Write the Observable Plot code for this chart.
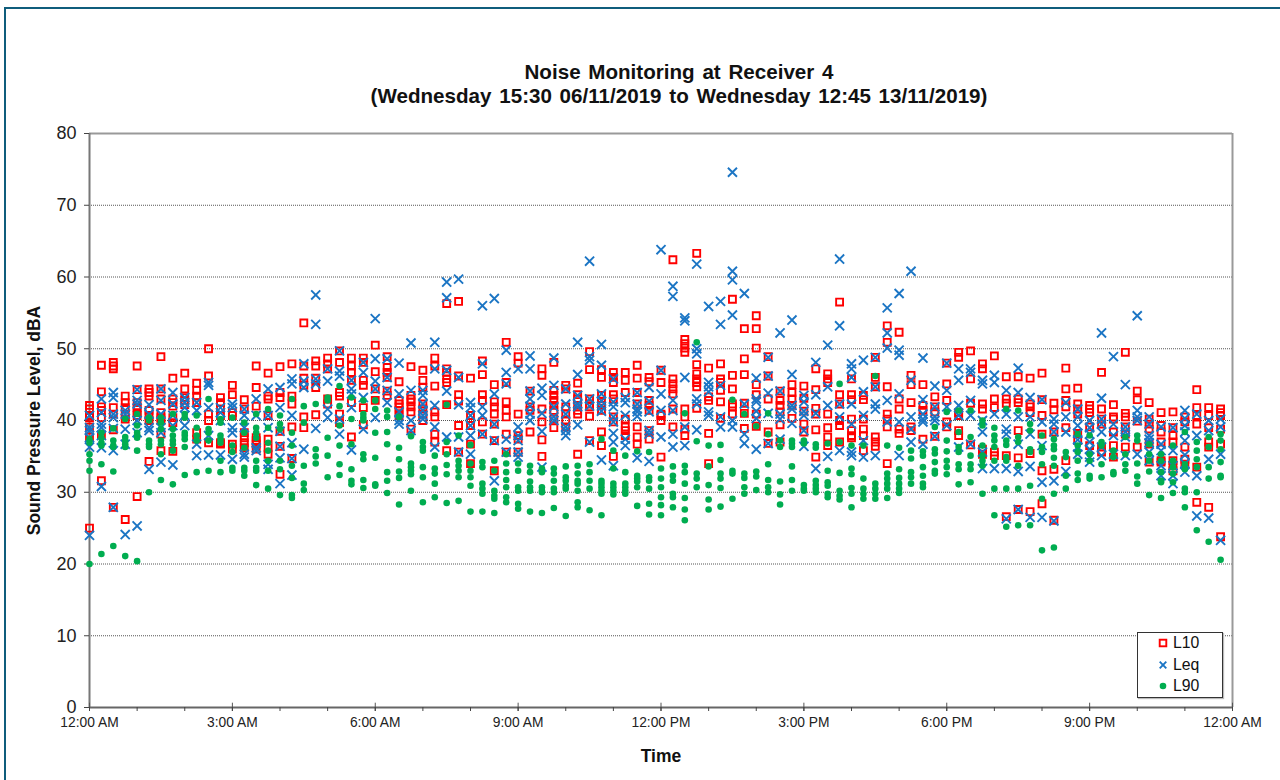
<!DOCTYPE html>
<html>
<head>
<meta charset="utf-8">
<script src="https://cdn.jsdelivr.net/npm/d3@7"></script>
<script src="https://cdn.jsdelivr.net/npm/@observablehq/plot@0.6"></script>
<style>
html,body{margin:0;padding:0;background:#fff;width:1280px;height:780px;overflow:hidden}
#page{position:relative;width:1280px;height:780px;font-family:"Liberation Sans",Arial,sans-serif;color:#111}
#edge{position:absolute;left:4px;top:7px;right:0;bottom:0;border-left:2px solid #0f5d7c;border-top:2px solid #0f5d7c}
#title{position:relative;height:110px;box-sizing:border-box;padding-top:60px;padding-left:78px;text-align:center;font-weight:bold;font-size:20.6px;line-height:24px;word-spacing:2px;white-space:nowrap}
#legend{position:absolute;left:1137px;top:632px;width:84px;height:64px;border:1px solid #333;background:#fff;font-size:15.8px;box-shadow:1px 1px 1px #bbb}
.row{position:absolute;left:19px;height:20px;line-height:20px;display:flex;align-items:center}
.row svg{width:12px;height:12px;margin-right:4px;display:block}
#chart svg{display:block}
</style>
</head>
<body>
<div id="page">
<div id="edge"></div>
<div id="title">Noise Monitoring at Receiver 4<br>(Wednesday 15:30 06/11/2019 to Wednesday 12:45 13/11/2019)</div>
<div id="chart"></div>
<div id="legend">
<div class="row" style="top:0px"><svg viewBox="-6 -6 12 12"><rect x="-3.3" y="-3.3" width="6.6" height="6.6" fill="none" stroke="#ff0000" stroke-width="1.9"/></svg>L10</div>
<div class="row" style="top:22px"><svg viewBox="-6 -6 12 12"><path d="M-3.3,-3.3L3.3,3.3M-3.3,3.3L3.3,-3.3" stroke="#1b75c4" stroke-width="1.9"/></svg>Leq</div>
<div class="row" style="top:43px"><svg viewBox="-6 -6 12 12"><circle r="3.3" fill="#00ad50"/></svg>L90</div>
</div>
</div>
<script>
const xTickHours = [0,3,6,9,12,15,18,21,24];
const xTickLabels = ["12:00 AM","3:00 AM","6:00 AM","9:00 AM","12:00 PM","3:00 PM","6:00 PM","9:00 PM","12:00 AM"];
const xMinorHours = d3.range(0,25);
const yTicks = [0,10,20,30,40,50,60,70,80];

// one inner list per 15-minute slot of the day
const L10 = [
[42.1,41.6,40.7,40.4,39.1,37.7,25],
[47.7,44,41.9,41.4,40.4,38,31.6],
[48.1,47.6,47.2,41.8,40.9,38.7,27.9],
[43.4,42.5,41.8,40.7,40.2,26.2],
[47.6,44.3,42.5,41.8,41.1,40.7,29.4],
[44.4,43.9,43.4,41.4,40.7,40,34.3],
[48.9,44.4,43,41.1,40.4,40,38.1,35.8],
[45.9,43,42.5,42,40.4,39.7,35.7],
[46.6,44.4,43.2,42.8,42.2],
[45.2,44.2,43.4,42.5,38.3,37.4],
[50,46.2,40.9,40,36.9],
[43.2,42.5,41.6,40.7,36.9,36.7],
[44.9,43.6,41.1,40.7,36.7,36],
[42.9,41.6,38.3,37.6,36.9,36.2],
[47.6,44.6,42,37.6,37.2,36.7,36],
[46.6,43.4,43,40.7,37.4,36.2,35.3],
[47.5,43.9,43.2,38.5,36.4,32.5],
[47.9,43.4,42.3,39.1,34.7],
[53.6,47.6,45.9,44.9,40.5,39],
[48.3,47.6,45.9,44.6,40.8],
[48.7,47.9,47.2,43,42.3],
[49.7,48.1,43.9,43.4,40.9,39.7],
[48.7,47.6,46.7,45.6,42.5,37.7],
[48.7,48.1,45.6,44.9,41.8,39.4],
[50.5,46.8,44.4,42.8],
[48.9,47.4,46.7,46,44.1,43.5],
[45.4,42.8,42.3,41.9,41.4,40.7],
[47.5,43.5,43,42.6,41.9,41.2,38.8],
[47,45.6,44.6,42.3,41.6,40.9,40],
[48.7,47.6,44.8,41.2,40.5,38.1,37],
[56.3,47.2,46.7,45.8,45.3,42.2,35.8],
[56.6,46.2,43.6,42.7,39.3,35.6],
[45.9,40.7,39.3,36.7,34],
[48.3,46.4,43.6,42.8,39.8,38.1],
[45,42.6,41.9,40.9,39.5,37.2,33],
[50.9,45.3,42.6,41.4,40.5,38.1,35.6],
[48.9,48,40.9,37.9,37.4,35.6],
[44.1,41.9,41.4,38.4],
[47.2,46.3,41.6,39.8,37.3,35],
[48.1,44.2,43.5,42.8,42.1,41.4,40.2,39],
[44.9,44.4,41.9,40.9,40,39.1],
[45.2,43.6,43,42.1,41.4,40.9,35.3],
[49.6,47.1,43,42.3,41.9,40.6,37.2],
[47.1,46,43.5,42.7,42.1,41.4,38.4,36.5],
[46.7,46,45.3,43.6,43,40.5,39.8,35],
[46.7,45.6,43.9,40.2,39.1,38.6,37.9],
[47.7,45.9,43.9,42.3,39.1,37.7,36.7],
[46,45.4,42.8,42.1,41.4,38.6,37.4],
[47,45.3,40.9,40.7,40,34.9],
[62.4,45.8,45.1,44.4,43.7,41.6,39.1],
[51.3,50.7,50.1,49.5,41.6,40.5,38.8,37.9],
[63.3,47.8,46.5,45.8,45.3,44.7,41.7],
[47.3,43.3,42.8,38.2,34],
[47.9,45.8,45.3,44.2,42.6,40.3],
[56.9,46.3,44.4,42.3,41.9,40.9],
[52.8,48.6,46.4,42.4,41,38.9],
[54.6,52.8,50.1,45,43.6,40.9,39.2],
[48.9,46.2,43,38.4,36.8],
[44.1,42.8,42.1,41.2,39.4,37],
[45,43.9,43,42.1,40.3],
[44.8,43.1,41.3,39.5,38.4],
[47.2,44.3,41.7,40.9,38.7,34.9],
[46.5,45.8,45.3,40.9,39,37.7,36.5],
[56.5,43.6,42.3,40,39.3,37],
[45.8,43.6,42.9,40.2,38.6,37.9,37.6],
[43.5,42.9,40.2,38.8,37.9,35.8],
[48.8,46,44.7,37.7,37,36.4],
[53.2,50.9,44.7,40.9,40.2,39.1,34],
[52.3,43,41.6,38.8,38.2],
[46.3,45,42.5,39.1,38.6],
[45,42.1,41.4,37.4],
[43.3,41.9,41.2,37.8],
[48,45.1,42.8,39.8,39.1],
[49.5,48.8,41.1,40.7,38.6,37.9],
[49.7,45.8,42.4,36.6],
[47.9,47.2,42.3,41.6,36,35.3],
[49,43,41.8,35.6,35.1],
[46.1,43,42.4,35.1,26.6],
[46.1,43,42.5,38.6,34.8,27.6],
[45.9,42.3,41.9,41.1,35.4,27.3],
[46.6,42.9,40.7,38.1,33,28.4],
[42.4,41.5,38.4,33.2,26.1],
[47.3,44.4,42.8,41.9,39,34.4],
[44.5,42.3,41.6,40.9,38.2,37.2],
[42.1,41.6,41.1,39.1,36.5],
[46.7,41.6,40.2,39.5,36.3,35.6],
[42.2,40.5,40.2,38.4,36.5,34.9],
[49.5,41,40.5,39.1,38.1,36.3],
[44.1,42.9,39.9,36.3],
[42.5,40.2,39.5,38.8,36.7,34.2],
[41.1,39.3,38.4,37,34.4,34.2],
[41.2,39,37.9,37,34.4,33.7,33],
[40.5,39.8,36.3,34.6,33.9],
[44.3,41.8,40.7,39.5,33.5,28.6],
[41.8,40.7,39,37,36.3,27.9],
[41.6,41.1,40.7,38.8,36.7,23.8]
];
const Leq = [
[40.7,39,38.6,37.6,36.3,24],
[43,41.1,39.5,39,37.9,36.2,30.8],
[43.9,43.2,40.9,40.4,38.9,35.8,27.9],
[41.4,40.9,38.8,36.7,24.1],
[44.3,42.8,42.3,40,38.3,25.3],
[42.2,40.9,39,38.6,33.2],
[44.4,42.8,40.9,39,38.3,34.2],
[43.9,42.3,40.7,39.3,33.8],
[43.2,42.5,41.8,40.7,39.3],
[42.5,41.4,36.7,35.1],
[45.3,44.9,41.8,37.9,35.2],
[41.8,41.1,40,35.2],
[42.3,41.8,39,38.3,34.6],
[41.6,40.7,39,35.3,34.9],
[43,40.7,36.2,35.8],
[44.4,40.7,39,33.9,33.2],
[44.6,41.8,38.5,36.4,34.8,31.2],
[45.8,45.1,40.7,36.9,34.7,32.4],
[47.9,45.5,44.6,36],
[57.5,53.4,45.8,45.1,38.9],
[47.2,45.5,41.6,40.4],
[49.7,46.9,46.2,40.2,38.1],
[45.6,44.4,43.7,41.8,35.9],
[48.1,46.7,43.2,38.8],
[54.2,48.6,45.5,44.4,40.4],
[48.6,46,44.2,42.5],
[48,43.7,41.2,40,39.5],
[50.8,44.2,40,38.6],
[44.2,43.5,42.3,41.4,40.7,40.2],
[50.9,47.2,42.1,39.1,36.3],
[59.3,57.1,47,44.1,37.7],
[59.7,46,42.2,37.7,35.6],
[42.5,41.8,40.7,39.3,37.9,35.3],
[56,47.9,41.9,40.7,38.1],
[57,43.7,39.5,37.2,31.6],
[49.8,46.7,45.1,37.4,35.6],
[47.2,39.1,37.9,37.2,35.6,34.9],
[49,47.2,44.1,43,42,40.9,40],
[44.5,43.5,41,38.5,33.5],
[48.7,44.9,41.9,40.5,40],
[44.4,42.3,40.9,39.1,38.6,37.9],
[50.9,46.4,43.5,42.3,41.9,39.4],
[62.2,48.9,48.4,43,42,37],
[50.6,47.7,43.7,42.7,42,41.3,34.5],
[45.8,42.6,41.9,40.5,39.8,38.2,37,33.7],
[43.2,42.5,40.7,37.4,36.5],
[43.9,42.3,41.6,41.2,40.6,34.8],
[44.6,42.7,41.2,38.6,38.1,34.3],
[63.8,47,43.7,41.4,37.7],
[58.7,57.3,42.8,41.4,38.1,36.3],
[54.3,53.9,46,39.1,36.5],
[61.8,50,49.3,43,42.3,38.7],
[55.9,45.3,44.7,44,41.2,40.7],
[56.6,53.4,44.9,40.5,39.1],
[74.6,60.8,59.6,54.7,40,39.1],
[57.7,42.3,38.1,36.8],
[45.9,43,42.6,41.3,40.3,36],
[48.8,46.2,43.8,41,36.8],
[52.2,44.1,40.9,40.2,37.4],
[54,46.4,42.1,41.6,39.6],
[43.5,42.6,41.3,40.7,38.6,36.4],
[48.1,43.6,41,33.3],
[50.5,44.7,42.1,35],
[62.5,53.2,42.3,40.5,35.8],
[47.9,47.2,46,42.3,39.5,35.6,35.1],
[48.4,44,40.7,37.2,34.9],
[48.8,44.7,42.3,41.6,35.1],
[55.7,52.2,50.1,42.8,39.8],
[57.7,49.8,49.1,43.7,39.8,35.1],
[60.8,45.6,40.5,38.8,37],
[48.7,42.9,40.9,40.2,39.8,36.7],
[44.8,41.9,40.5,40,37.8],
[48,44.2,41.9,39.3],
[47.2,45.6,42.1,40.7,36.3],
[47.2,46.7,42.8,40.7,36.7],
[45.6,45.1,40,38.4,35.6,33.3],
[46.3,45.3,40.9,33.3],
[44.2,40.9,38.8,38.1,33.3,26.3],
[47.3,43.9,40.5,36.7,32.9,27.6],
[43.2,40.5,38.1,33.6,26.5],
[42.9,39.8,36.5,31.4,26.5],
[40.2,39.5,38.4,31.6,26],
[42.5,40.5,38.4,32.9],
[41.6,40.5,39.3,38.2,37.3,36.3,35.3],
[40,39,38.1,37,36,34.9,34.2],
[52.2,43.1,40.2,39.5,38.4,36.3,35.1],
[48.9,39.5,37.9,35.3],
[45,39.1,38.4,37.7,35.1],
[54.6,41.4,40.5,40,35.3],
[40.5,39.5,37.9,37.4,36.9,35.6,34.4],
[39.1,36.7,35.8,33.7,32.3],
[39,35.8,33.7,32.3,31.2],
[41.4,40.3,39.3,38.4,37.2,35.2,34,32.8],
[40.9,37.9,32.3,26.7],
[40,38.6,34.6,26.4],
[40.2,39.1,35.3,23.3]
];
const L90 = [
[37.4,36.9,35.3,34.4,33,20],
[38.3,37.6,36.9,36.5,33.9,21.4],
[38.9,37.2,36.5,36.3,32.9,22.5],
[40.2,37.7,37.2,36.7,36.3,21.1],
[40.9,39.3,38.3,37.9,37.6,35.8,20.4],
[40.4,40,37.2,36.7,36.3,30],
[40.4,39.7,38.8,37.2,36.7,35.3,31.7],
[40.9,38.8,37.9,37.2,36.7,35.8,31.1],
[40.9,40.4,38.3,37.9,37.4,36.3,32.4],
[40.7,39,37.9,37.2,32.8],
[43,38.8,38.3,37.2,33],
[40.2,39.7,37.9,37.4,36.9,34.4,32.8],
[40.4,36.5,35.6,33.4,33],
[39.7,38.3,36.2,33.4,33,32.3],
[40.9,39,38.3,37.6,34.4,33.4,33,31],
[41.6,39,36.9,35.8,34.4,33,30.5],
[40.7,39.5,38.8,34.4,33.2,29.6],
[43,38.3,36.5,33.7,32,29.6,29.2],
[42,39.7,33.7,31.2,30.3],
[42.3,36,35,34],
[43.2,42.8,37.6,35.1,32.1],
[44.8,42,39.3,36.5,33.9,32.4],
[43.2,40.2,36.7,33.2,31.6,31.1],
[42.8,40.9,40.4,40,35.3,34.6,31.7,30.6],
[42.8,41.6,38.3,34.8,31.1,30.9],
[41.4,40.5,38.4,36.7,32.8,31.6,29.9],
[40.5,36.2,34.6,32.9,32,28.3],
[37.8,34,33.5,33,32.5,30.2],
[37,36.3,35.8,33.5,32.1,28.6],
[35.1,33.3,32.6,31.2,29.3],
[42.2,37,35.3,33.8,32.5,28.5],
[37.9,34.4,33.7,33,32.1,28.8],
[36.6,34,33,32.1,30.9,27.3],
[34.2,33.5,31.2,30.5,29.8,27.3],
[34.4,33,30.2,29.5,29.1,27.1],
[35.3,34,32.8,31.7,30.7,29.3,28.6],
[34,33,30.7,30.2,28.4,27.7],
[33.7,32.8,31.5,30.7,30.2,27.3],
[33.3,32.8,30.7,30.2,30,27.1],
[33.3,32.6,31.6,30.5,30,27.8],
[33.6,32.1,31.6,30.9,30.5,26.7],
[33.7,32.6,31.6,31.2,30.2,28.6,27.9],
[33.9,32.8,31.6,30.5,27.5],
[37.4,31.6,31.2,30.7,30.2,29.8,26.8],
[35.8,33.3,31.2,30.7,30.2,29.7],
[35.1,32.8,31.2,30.7,30.2,29.8],
[35.7,32.3,31.9,31.5,30.7,28.1],
[35.6,32.1,31.6,30.5,28.4,26.9],
[33.3,31.9,30.7,29.3,28.2,26.8],
[33.6,32.3,31.6,29.8,29.3,27.9],
[41,33.7,32.8,31.2,29.2,27.6,26.1],
[50.9,37.1,32.6,31.9,30.7],
[36.5,33.6,31,29,27.6],
[36.6,34.5,32.6,31.9,30.6,28],
[42.9,33,32.6,29.1],
[40.9,32.6,32,30.7,29.8],
[39.2,32.9,32.2,30.3],
[41,38.1,33.9,31.7,30.7,30],
[37.2,36.3,31.5,29.7,28.3],
[37.2,36.8,36.3,33.6,31.7,30.2],
[37.2,36.8,31,30.5,30.2],
[36.7,36.2,31.6,31,30.5,30],
[36.8,33,31.4,30.9,29.8,29.3],
[45.1,37,32.7,30.2,29.5,29],
[36.5,33.3,32.5,30.6,29.8,27.9],
[36.5,31.9,30.5,29.8,29.1],
[46.2,31.2,30.5,29.8,29.1],
[36.5,32.6,31.9,31.2,30.5,29.2],
[36.2,33.2,32,31.2,30.5,29.9],
[35.8,34.7,32.8,32.1,31.2],
[35.7,35.1,33.5,32.3,31.2,30.7],
[39.1,36,35.4,34.2,33,32.6],
[41.2,37.2,35.7,34.4,33.5,32.5],
[41.4,38.4,36.3,35.6,33.9,33.2,31.1],
[41.4,37.7,35.1,33.9,33.2,31.4],
[40,39.3,36.5,35.1,34.4,33.7,29.8],
[39,37.9,37.2,36.3,34.4,30.5,26.8],
[41.6,37.2,36.6,34.9,34.4,30.5,25.2],
[41.4,37.7,37,33.7,30.5,25.4],
[39.5,38.6,36,35.6,30.9,25.4],
[37.9,36.3,35.6,33.9,29.1,21.9],
[37.4,36.5,36,34.8,33.7,29.8,22.3],
[35.6,34.9,32.3,30.5],
[38.1,36.5,35.6,34.4,32.6,31.7],
[37.9,35.3,34.4,32.3,31.9],
[37,36.5,33.9,32.1],
[35.8,34.9,32.8,32.5],
[37.7,35.3,33.9,33],
[37.9,37.2,34,32.2,31.2],
[36.7,35.3,34.4,32.9,29.6],
[35.3,34.4,32.8,31.6,31.4,29.2],
[36.5,34.4,33.5,32.6,31.4,29.9],
[38.4,33.9,33.2,30.5,30,27.9],
[37,35.8,34.6,33.5,30,24.7],
[37.7,36.3,33.5,31.9,23.1],
[38.1,37.2,36,34.2,32.3,32.1,20.6]
];

const rows = cols => cols.flatMap((vals, i) => vals.map(v => ({hour: i / 4, level: v})));
const labelOf = new Map(xTickHours.map((h, i) => [h, xTickLabels[i]]));

const chart = Plot.plot({
  width: 1280, height: 670,
  marginLeft: 89, marginRight: 48, marginTop: 23, marginBottom: 73,
  style: {fontFamily: '"Liberation Sans",Arial,sans-serif', background: "transparent", color: "#111", overflow: "visible"},
  x: {domain: [0, 24]},
  y: {domain: [0, 80]},
  marks: [
    Plot.ruleY(yTicks.filter(d => d > 0 && d < 80), {stroke: "#555", strokeWidth: 1, strokeDasharray: "1 1"}),
    Plot.ruleY([80], {stroke: "#999", strokeWidth: 2}),
    Plot.ruleX([24], {stroke: "#999", strokeWidth: 2}),
    Plot.ruleX([0], {stroke: "#777", strokeWidth: 2}),
    Plot.ruleY([0], {stroke: "#666", strokeWidth: 2}),
    Plot.ruleX(xTickHours, {y1: 0, y2: 0.6, stroke: "#555", strokeWidth: 1}),
    Plot.axisY({ticks: yTicks, tickSize: 5, tickPadding: 8, fontSize: 18, label: null, stroke: "#444", color: "#222"}),
    Plot.axisY({ticks: [], label: "Sound Pressure Level, dBA", labelAnchor: "center", labelArrow: "none", labelOffset: 62, fontSize: 17.5, fontWeight: "bold"}),
    Plot.axisX({ticks: xMinorHours, tickSize: 4, tickFormat: () => "", label: null, stroke: "#444"}),
    Plot.axisX({ticks: xTickHours, tickSize: 4, tickPadding: 6, tickFormat: d => labelOf.get(d), fontSize: 13.8, label: null, stroke: "#444", color: "#222"}),
    Plot.axisX({ticks: [], label: "Time", labelAnchor: "center", labelArrow: "none", labelOffset: 54, fontSize: 17.5, fontWeight: "bold"}),
    Plot.dot(rows(L10), {x: "hour", y: "level", symbol: "square", r: 3.9, stroke: "#ff0000", strokeWidth: 1.9, fill: "none"}),
    Plot.dot(rows(Leq), {x: "hour", y: "level", symbol: "times", r: 4.2, stroke: "#1b75c4", strokeWidth: 1.9, fill: "none"}),
    Plot.dot(rows(L90), {x: "hour", y: "level", symbol: "circle", r: 3.3, fill: "#00ad50", stroke: "none"})
  ]
});
document.getElementById("chart").appendChild(chart);
</script>
</body>
</html>
